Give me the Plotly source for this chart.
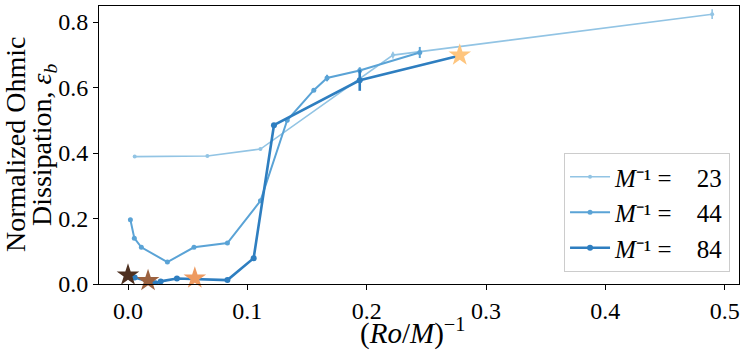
import plotly.graph_objects as go

# Series M^-1 = 23
x23 = [0.0056, 0.0665, 0.111, 0.222, 0.4895]
y23 = [0.389, 0.391, 0.412, 0.699, 0.824]
e23 = [0.0, 0.0, 0.0, 0.010, 0.015]

# Series M^-1 = 44
x44 = [0.002, 0.0053, 0.0112, 0.033, 0.0553, 0.0833, 0.111, 0.1334, 0.1557, 0.1668, 0.1942, 0.2445]
y44 = [0.196, 0.140, 0.112, 0.067, 0.112, 0.125, 0.254, 0.500, 0.592, 0.629, 0.652, 0.707]
e44 = [0.0, 0.0, 0.0, 0.0, 0.0, 0.0, 0.0, 0.0, 0.005, 0.010, 0.010, 0.017]

# Series M^-1 = 84
x84 = [0.0056, 0.023, 0.0274, 0.041, 0.0833, 0.1053, 0.1223, 0.1942, 0.2766]
y84 = [0.020, 0.002, 0.008, 0.017, 0.012, 0.079, 0.485, 0.622, 0.696]
e84 = [0.0, 0.0, 0.0, 0.0, 0.0, 0.0, 0.0, 0.032, 0.0]

labels = ["23", "44", "84"]
colors = ["#92c4e4", "#5aa3d6", "#2e7ec0"]
widths = [1.6, 2.0, 2.6]
msizes = [4, 5, 6]

# Star markers
star_x = [0.0, 0.0168, 0.056, 0.278]
star_y = [0.027, 0.010, 0.018, 0.699]
star_colors = ["#4e3020", "#9c6240", "#ee9a60", "#fec57e"]

xticks = [0, 0.1, 0.2, 0.3, 0.4, 0.5]
xticklabels = ["0.0", "0.1", "0.2", "0.3", "0.4", "0.5"]
yticks = [0, 0.2, 0.4, 0.6, 0.8]
yticklabels = ["0.0", "0.2", "0.4", "0.6", "0.8"]

ytitle_lines = ["Normalized Ohmic", "Dissipation, <i>ε<sub>b</sub></i>"]
xtitle = "(<i>Ro</i>/<i>M</i>)<sup>−1</sup>"

fig = go.Figure()
for xs, ys, es, lab, c, w, ms in zip([x23, x44, x84], [y23, y44, y84], [e23, e44, e84],
                                     labels, colors, widths, msizes):
    fig.add_trace(go.Scatter(
        x=xs, y=ys, mode="lines+markers",
        name="<i>M</i>⁻¹ =    " + lab,
        line=dict(color=c, width=w),
        marker=dict(color=c, size=ms),
        error_y=dict(type="data", array=es, visible=True, color=c, thickness=w, width=0),
    ))

fig.add_trace(go.Scatter(
    x=star_x, y=star_y, mode="markers", showlegend=False,
    marker=dict(symbol="star", size=17, color=star_colors, line=dict(width=0)),
    cliponaxis=False,
))

font_family = "Liberation Serif"
fig.update_layout(
    width=748, height=352,
    margin=dict(l=99, r=9, t=6, b=68),
    plot_bgcolor="white", paper_bgcolor="white",
    font=dict(family=font_family, size=24, color="black"),
    showlegend=True,
    legend=dict(
        x=0.986, y=0.043, xanchor="right", yanchor="bottom",
        bgcolor="rgba(255,255,255,0.8)", bordercolor="#cccccc", borderwidth=1,
        font=dict(family=font_family, size=25, color="black"),
        itemwidth=40,
    ),
)
fig.update_xaxes(
    range=[-0.0243, 0.512], tickvals=xticks, ticktext=xticklabels,
    showline=True, linecolor="black", linewidth=1, mirror=True,
    ticks="outside", ticklen=5, tickcolor="black", showgrid=False, zeroline=False,
    tickfont=dict(size=24), automargin=False,
)
fig.update_yaxes(
    range=[0, 0.849], tickvals=yticks, ticktext=yticklabels,
    showline=True, linecolor="black", linewidth=1, mirror=True,
    ticks="outside", ticklen=5, tickcolor="black", showgrid=False, zeroline=False,
    tickfont=dict(size=24), automargin=False,
)

# Axis titles as annotations (tight line spacing like the reference)
fig.add_annotation(text=ytitle_lines[0], xref="paper", yref="paper",
                   x=(15 - 99) / 640, y=0.5, xanchor="center", yanchor="middle",
                   textangle=-90, showarrow=False, font=dict(size=28))
fig.add_annotation(text=ytitle_lines[1], xref="paper", yref="paper",
                   x=(43 - 99) / 640, y=0.5, xanchor="center", yanchor="middle",
                   textangle=-90, showarrow=False, font=dict(size=28))
fig.add_annotation(text=xtitle, xref="paper", yref="paper",
                   x=(412 - 99) / 640, y=(284 - 331) / 278, xanchor="center", yanchor="middle",
                   showarrow=False, font=dict(size=29))

fig.write_html("out.html", config={"displayModeBar": False},
               post_script="document.body.style.margin='0';")
